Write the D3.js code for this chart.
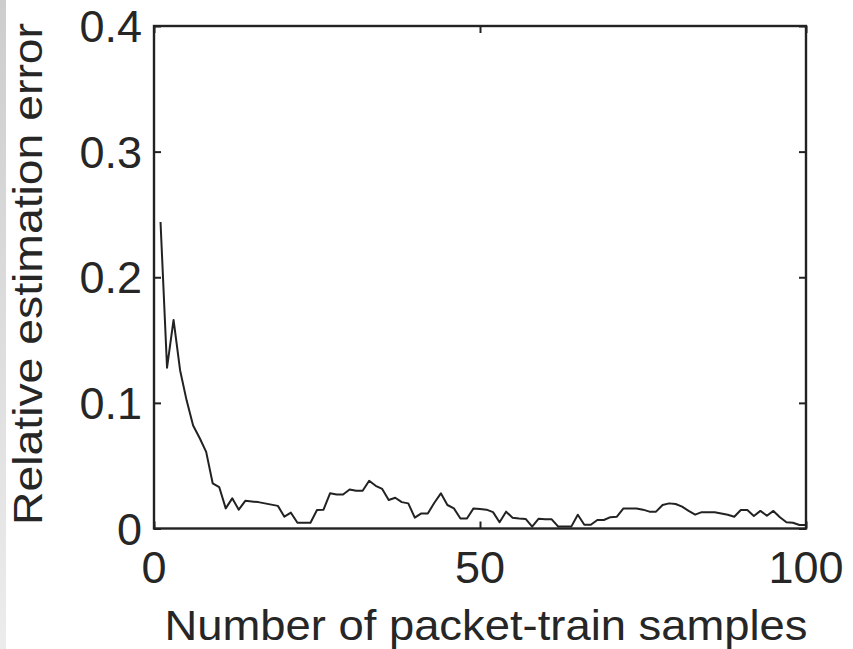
<!DOCTYPE html>
<html>
<head>
<meta charset="utf-8">
<script src="https://cdn.jsdelivr.net/npm/d3@7/dist/d3.min.js"></script>
<style>
  html, body { margin: 0; padding: 0; background: #fff; }
  svg { display: block; }
  text { font-family: "Liberation Sans", Arial, Helvetica, sans-serif; fill: #262626; }
</style>
</head>
<body>
<svg id="chart" width="853" height="649"></svg>
<script>
// ---- data ----
const samples = d3.range(1, 101);
const errors = [
  0.244, 0.128, 0.166, 0.126, 0.102, 0.082, 0.072, 0.061, 0.036, 0.033,
  0.016, 0.024, 0.015, 0.022, 0.0215, 0.021, 0.020, 0.019, 0.018, 0.0094,
  0.0126, 0.0046, 0.0046, 0.0046, 0.0147, 0.015, 0.028, 0.027, 0.027, 0.031,
  0.030, 0.030, 0.038, 0.034, 0.0315, 0.0227, 0.0245, 0.021, 0.020, 0.0086,
  0.012, 0.012, 0.0205, 0.028, 0.0187, 0.016, 0.008, 0.008, 0.016, 0.0155,
  0.015, 0.013, 0.005, 0.0134, 0.0086, 0.008, 0.0076, 0.0015, 0.0078, 0.0073,
  0.0073, 0.0015, 0.0015, 0.0015, 0.011, 0.003, 0.003, 0.0068, 0.0068, 0.009,
  0.0094, 0.016, 0.016, 0.016, 0.015, 0.0134, 0.0134, 0.0187, 0.020, 0.0195,
  0.0174, 0.014, 0.011, 0.013, 0.013, 0.013, 0.012, 0.011, 0.0094, 0.0147,
  0.0147, 0.010, 0.014, 0.0102, 0.014, 0.009, 0.005, 0.0046, 0.0028, 0.0028
];
const xTicks = [0, 50, 100];
const yTicks = [0, 0.1, 0.2, 0.3, 0.4];
const xTickLabels = ["0", "50", "100"];
const yTickLabels = ["0", "0.1", "0.2", "0.3", "0.4"];
const xLabel = "Number of packet-train samples";
const yLabel = "Relative estimation error";

// ---- layout ----
const svg = d3.select("#chart");
const L = 154, R = 806, T = 26, B = 528.5;

// grey strip at the left edge
const defs = svg.append("defs");
const grad = defs.append("linearGradient").attr("id", "strip")
  .attr("x1", 0).attr("y1", 0).attr("x2", 0).attr("y2", 1);
grad.append("stop").attr("offset", "0%").attr("stop-color", "#cdcdcd");
grad.append("stop").attr("offset", "100%").attr("stop-color", "#ececec");
svg.append("rect").attr("x", 0).attr("y", 0).attr("width", 6).attr("height", 649)
  .attr("fill", "url(#strip)");

const x = d3.scaleLinear().domain([0, 100]).range([L, R]);
const y = d3.scaleLinear().domain([0, 0.4]).range([B, T]);

const tickLen = 7;
const axisColor = "#222";

function styleAxis(g) {
  g.select(".domain").remove();
  g.selectAll(".tick line").attr("stroke", axisColor).attr("stroke-width", 2);
  g.selectAll(".tick text").remove();
}

// inward ticks on all four sides
svg.append("g").attr("transform", `translate(0,${B})`)
  .call(d3.axisBottom(x).tickValues(xTicks).tickSize(-tickLen)).call(styleAxis);
svg.append("g").attr("transform", `translate(0,${T})`)
  .call(d3.axisTop(x).tickValues(xTicks).tickSize(-tickLen)).call(styleAxis);
svg.append("g").attr("transform", `translate(${L},0)`)
  .call(d3.axisLeft(y).tickValues(yTicks).tickSize(-tickLen)).call(styleAxis);
svg.append("g").attr("transform", `translate(${R},0)`)
  .call(d3.axisRight(y).tickValues(yTicks).tickSize(-tickLen)).call(styleAxis);

// box
svg.append("rect").attr("x", L).attr("y", T).attr("width", R - L).attr("height", B - T)
  .attr("fill", "none").attr("stroke", axisColor).attr("stroke-width", 2.4);

// data line
const line = d3.line().x((d, i) => x(samples[i])).y(d => y(d));
svg.append("path").datum(errors).attr("d", line)
  .attr("fill", "none").attr("stroke", "#222").attr("stroke-width", 2)
  .attr("stroke-linejoin", "round");

// tick labels
svg.append("g").selectAll("text").data(xTicks).join("text")
  .attr("x", d => x(d)).attr("y", 583)
  .attr("text-anchor", "middle").attr("font-size", 45)
  .text((d, i) => xTickLabels[i]);

svg.append("g").selectAll("text").data(yTicks).join("text")
  .attr("x", 142).attr("y", d => y(d)).attr("dy", "0.36em")
  .attr("text-anchor", "end").attr("font-size", 45)
  .text((d, i) => yTickLabels[i]);

// axis titles
svg.append("text").attr("x", 486).attr("y", 640)
  .attr("text-anchor", "middle").attr("font-size", 42)
  .attr("textLength", 643).attr("lengthAdjust", "spacingAndGlyphs")
  .text(xLabel);

svg.append("text").attr("transform", "translate(42,274) rotate(-90)")
  .attr("text-anchor", "middle").attr("font-size", 41)
  .attr("textLength", 502).attr("lengthAdjust", "spacingAndGlyphs")
  .text(yLabel);
</script>
</body>
</html>
